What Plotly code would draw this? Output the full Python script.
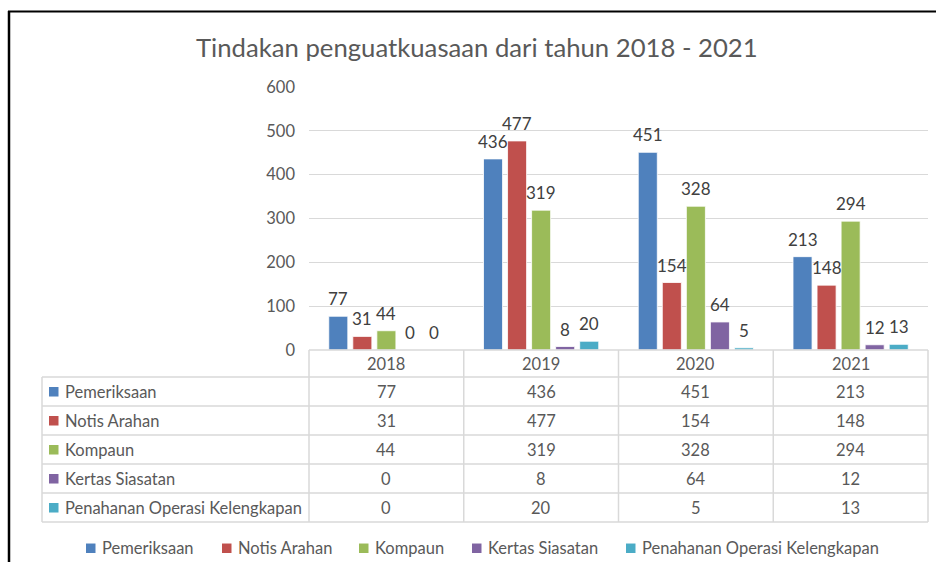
import plotly.graph_objects as go

# ---- data ----
years = ["2018", "2019", "2020", "2021"]
series_names = ["Pemeriksaan", "Notis Arahan", "Kompaun", "Kertas Siasatan",
                "Penahanan Operasi Kelengkapan"]
pemeriksaan = [77, 436, 451, 213]
notis_arahan = [31, 477, 154, 148]
kompaun = [44, 319, 328, 294]
kertas_siasatan = [0, 8, 64, 12]
penahanan = [0, 20, 5, 13]
series_values = [pemeriksaan, notis_arahan, kompaun, kertas_siasatan, penahanan]
colors = ["#4F81BD", "#C0504D", "#9BBB59", "#8064A2", "#4BACC6"]
y_ticks = [0, 100, 200, 300, 400, 500, 600]
title_text = "Tindakan penguatkuasaan dari tahun 2018 - 2021"

W, H = 936, 572
FONT = "Lato, Carlito, Calibri, sans-serif"
TXT = "#595959"
GRID = "#D9D9D9"

# vertical placement helper: layout positions are given in screen pixels,
# accounting for the offset/scale at which the page is displayed
Y_OFF, Y_SCALE = 10.0, 0.965


def px(x):
    return x / W


def py(y):
    return 1 - ((y - Y_OFF) / Y_SCALE) / H


# plot area in pixels
PL, PR, PT, PB = 309, 928, 87, 350
TABLE_LEFT = 42
row_edges = [350, 377, 406, 435, 464, 493, 522]

BARGAP = 0.223
BARGROUPGAP = 0.208
n_series = len(series_names)
slot = (1 - BARGAP) / n_series  # width of one bar slot in category units

fig = go.Figure()
annotations = []
for k, (name, vals, col) in enumerate(zip(series_names, series_values, colors)):
    fig.add_trace(go.Bar(
        x=list(range(len(years))), y=vals, name=name,
        marker=dict(color=col, line=dict(color="white", width=0.8)),
        showlegend=False,
    ))
    # value labels centred over each bar
    for i, v in enumerate(vals):
        annotations.append(dict(
            xref="x", yref="y", x=i + (k - (n_series - 1) / 2) * slot, y=v,
            text=str(v), showarrow=False, xanchor="center", yanchor="bottom",
            yshift=5, font=dict(family=FONT, size=17, color="#404040")))

shapes = []

# outer frame (top and left edges)
shapes.append(dict(type="line", xref="paper", yref="paper",
                   x0=px(8), x1=1, y0=py(11.5), y1=py(11.5),
                   line=dict(color="black", width=2)))
shapes.append(dict(type="line", xref="paper", yref="paper",
                   x0=px(9), x1=px(9), y0=py(11), y1=0,
                   line=dict(color="black", width=2.5)))

# data table grid
col_w = (PR - PL) / len(years)
col_edges = [PL + i * col_w for i in range(len(years) + 1)]
tline = dict(color=GRID, width=1.5)
shapes.append(dict(type="line", xref="paper", yref="paper",
                   x0=px(PL), x1=px(PR), y0=py(row_edges[0]), y1=py(row_edges[0]), line=tline))
for ry in row_edges[1:]:
    shapes.append(dict(type="line", xref="paper", yref="paper",
                       x0=px(TABLE_LEFT), x1=px(PR), y0=py(ry), y1=py(ry), line=tline))
shapes.append(dict(type="line", xref="paper", yref="paper",
                   x0=px(TABLE_LEFT), x1=px(TABLE_LEFT), y0=py(row_edges[1]), y1=py(row_edges[-1]), line=tline))
for cx in col_edges:
    shapes.append(dict(type="line", xref="paper", yref="paper",
                       x0=px(cx), x1=px(cx), y0=py(row_edges[0]), y1=py(row_edges[-1]), line=tline))

TS = 16.5
# year header row
for i, yr in enumerate(years):
    annotations.append(dict(xref="paper", yref="paper",
                            x=px(col_edges[i] + col_w / 2), y=py((row_edges[0] + row_edges[1]) / 2),
                            text=yr, showarrow=False, xanchor="center", yanchor="middle",
                            font=dict(family=FONT, size=TS, color=TXT)))

# table body: series key, name, values
for r, (name, vals, col) in enumerate(zip(series_names, series_values, colors)):
    yc = (row_edges[r + 1] + row_edges[r + 2]) / 2
    shapes.append(dict(type="rect", xref="paper", yref="paper",
                       x0=px(49), x1=px(58.5), y0=py(yc + 5), y1=py(yc - 4.5),
                       fillcolor=col, line=dict(width=0)))
    annotations.append(dict(xref="paper", yref="paper", x=px(63), y=py(yc),
                            text=name, showarrow=False, xanchor="left", yanchor="middle",
                            font=dict(family=FONT, size=TS, color=TXT)))
    for i, v in enumerate(vals):
        annotations.append(dict(xref="paper", yref="paper",
                                x=px(col_edges[i] + col_w / 2), y=py(yc),
                                text=str(v), showarrow=False, xanchor="center", yanchor="middle",
                                font=dict(family=FONT, size=TS, color=TXT)))

# legend along the bottom
legend_x = [86, 222, 359, 472, 626]
LY = 548
for name, col, lx in zip(series_names, colors, legend_x):
    shapes.append(dict(type="rect", xref="paper", yref="paper",
                       x0=px(lx), x1=px(lx + 9.5), y0=py(LY + 5), y1=py(LY - 4.5),
                       fillcolor=col, line=dict(width=0)))
    annotations.append(dict(xref="paper", yref="paper", x=px(lx + 14), y=py(LY),
                            text=name, showarrow=False, xanchor="left", yanchor="middle",
                            font=dict(family=FONT, size=TS, color=TXT)))

# title
annotations.append(dict(xref="paper", yref="paper", x=px(477), y=py(47),
                        text=title_text, showarrow=False, xanchor="center", yanchor="middle",
                        font=dict(family=FONT, size=25.7, color=TXT)))

fig.update_layout(
    width=W, height=H, autosize=False,
    margin=dict(l=0, r=0, t=0, b=0),
    paper_bgcolor="white", plot_bgcolor="white",
    barmode="group", bargap=BARGAP, bargroupgap=BARGROUPGAP,
    shapes=shapes, annotations=annotations,
    xaxis=dict(domain=[px(PL), px(PR)], range=[-0.5, len(years) - 0.5],
               showticklabels=False, ticks="",
               showgrid=False, zeroline=False, showline=False, fixedrange=True),
    yaxis=dict(domain=[py(PB), py(PT)], range=[0, 600], tickvals=y_ticks,
               showgrid=True, gridcolor=GRID, gridwidth=1.3,
               zeroline=False, showline=False, ticks="", ticklabelstandoff=13,
               tickfont=dict(family=FONT, size=16.5, color=TXT), fixedrange=True),
    font=dict(family=FONT, color=TXT),
)

fig.write_html("out.html")
